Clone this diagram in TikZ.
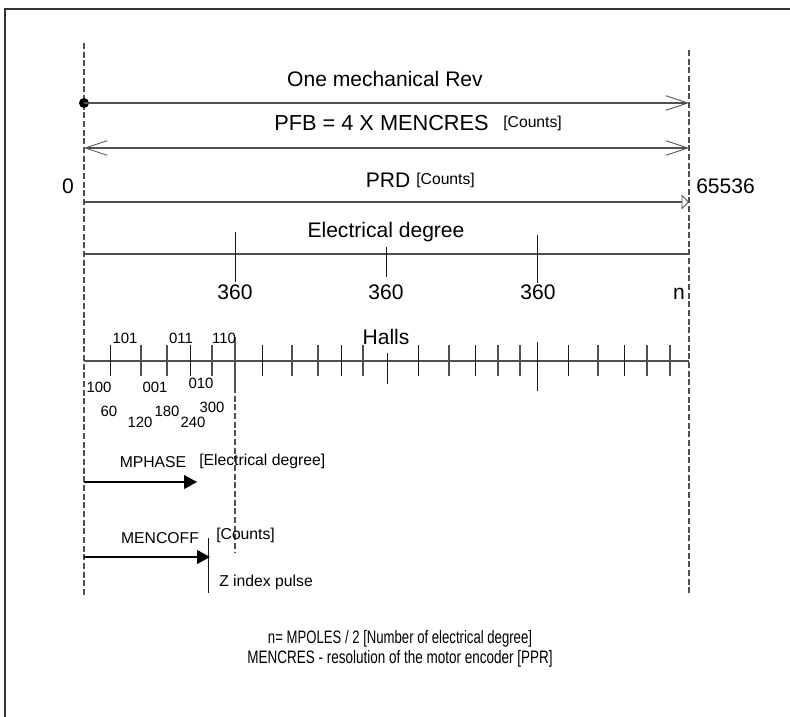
\documentclass[tikz,border=0pt]{standalone}
\usepackage{fontspec}
\setmainfont{Liberation Sans}
\usetikzlibrary{arrows.meta}
\definecolor{ln}{RGB}{80,80,80}
\definecolor{dk}{RGB}{25,25,25}
\begin{document}
\begin{tikzpicture}[x=0.75pt,y=-0.75pt,
  big/.style={font=\fontsize{15.8}{18}\selectfont, inner sep=0pt},
  mid/.style={font=\fontsize{11.8}{14}\selectfont, inner sep=0pt},
  sml/.style={font=\fontsize{11.2}{12}\selectfont, inner sep=0pt},
  note/.style={font=\fontsize{13.5}{16}\selectfont, inner sep=0pt},
  guide/.style={ln, dash pattern=on 4.5pt off 2pt, line width=0.9pt},
  hline/.style={ln, line width=0.8pt},
  tick/.style={dk, line width=0.75pt},
  gtick/.style={ln, line width=0.8pt},
  barb/.tip={Straight Barb[length=16.5pt,width=11pt,line width=0.6pt]},
  opentri/.tip={Triangle[open,length=5.5pt,width=11pt,line width=0.6pt]},
  fulltri/.tip={Triangle[length=9.75pt,width=10.5pt]},
]
\useasboundingbox (0,0) rectangle (790,717);
% frame
\coordinate (fb) at (5,717); \coordinate (fc) at (5,9); \coordinate (fr) at (790,9);
\draw[line width=0.8pt, black!80] (fb) -- (fc) -- (fr);

% guide lines
\coordinate (L0) at (84,43); \coordinate (L1) at (84,595);
\coordinate (R0) at (689,50); \coordinate (R1) at (689,595);
\draw[guide] (L0) -- (L1);
\draw[guide] (R0) -- (R1);

% One mechanical Rev
\node[big, anchor=base] (t1) at (385,87) {One mechanical Rev};
\node[circle, fill=black, inner sep=0pt, minimum size=7.5pt] (dot) at (84,103) {};
\coordinate (a1e) at (689,103);
\draw[hline, -barb] (dot.center) -- (a1e);

% PFB
\node[big, font=\fontsize{16.3}{18}\selectfont, anchor=base] (t2) at (381.5,131) {PFB = 4 X MENCRES};
\node[mid, anchor=base west] (t2c) at (503,127.5) {[Counts]};
\coordinate (a2s) at (84,148); \coordinate (a2e) at (689,148);
\draw[hline, barb-barb] (a2s) -- (a2e);

% PRD
\node[big, anchor=base] (t3) at (388,188) {PRD};
\node[mid, anchor=base west] (t3c) at (416,184.5) {[Counts]};
\node[big, anchor=base] (zero) at (68,193.5) {0};
\node[big, anchor=base west] (max) at (696,193.5) {65536};
\coordinate (a3s) at (84,202); \coordinate (a3e) at (689,202);
\draw[hline, -opentri] (a3s) -- (a3e);

% Electrical degree
\node[big, anchor=base] (t4) at (386,238) {Electrical degree};
\coordinate (e0) at (84,254); \coordinate (e1) at (689,254);
\draw[hline] (e0) -- (e1);
\draw[tick] (235,232) -- (235,282);
\draw[tick] (386,247) -- (386,277);
\draw[tick] (537,235) -- (537,283);
\node[big, anchor=base] (d1) at (235,299) {360};
\node[big, anchor=base] (d2) at (386,299) {360};
\node[big, anchor=base] (d3) at (538,299) {360};
\node[big, anchor=base east] (dn) at (685,299) {n};

% Halls
\node[big, anchor=base] (t5) at (386,344) {Halls};
\coordinate (h0) at (84,361); \coordinate (h1) at (689,361);
\draw[hline] (h0) -- (h1);
\foreach \x in {110,190,262,341,418,475,568,624}
  \draw[tick] (\x,345) -- (\x,376);
\foreach \x in {141,167,212,292,318,363,449,498,520,598,647,670}
  \draw[gtick] (\x,345) -- (\x,376);
\draw[gtick] (235,337) -- (235,387);
\draw[tick] (387,353) -- (387,384);
\draw[tick] (537,342) -- (537,391);
\coordinate (z0) at (235,387); \coordinate (z1) at (235,553);
\draw[guide] (z0) -- (z1);

\node[sml, anchor=base] (h101) at (125,343) {101};
\node[sml, anchor=base] (h011) at (181,343) {011};
\node[sml, anchor=base] (h110) at (224,343) {110};
\node[sml, anchor=base] (h100) at (99,392) {100};
\node[sml, anchor=base] (h001) at (155,392) {001};
\node[sml, anchor=base] (h010) at (201,388) {010};
\node[sml, anchor=base] (g60) at (109,416) {60};
\node[sml, anchor=base] (g120) at (140,427) {120};
\node[sml, anchor=base] (g180) at (167,416) {180};
\node[sml, anchor=base] (g240) at (193,427) {240};
\node[sml, anchor=base] (g300) at (212,412) {300};

% MPHASE
\node[mid, anchor=base] (mp) at (153,467) {MPHASE};
\node[mid, anchor=base west] (mpu) at (199,465) {[Electrical degree]};
\coordinate (m0) at (84,482); \coordinate (m1) at (197,482);
\draw[hline, black, -fulltri] (m0) -- (m1);

% MENCOFF
\node[mid, anchor=base] (mc) at (160,543) {MENCOFF};
\node[mid, anchor=base west] (mcu) at (216,539) {[Counts]};
\coordinate (c0) at (84,557); \coordinate (c1) at (210,557);
\draw[hline, black, -fulltri] (c0) -- (c1);
\coordinate (zi0) at (208,538); \coordinate (zi1) at (208,593);
\draw[tick] (zi0) -- (zi1);
\node[mid, anchor=base west] (zi) at (219,586) {Z index pulse};

% notes
\node[note, anchor=base] (n1) at (400,643) {\scalebox{0.73}[1]{n= MPOLES / 2 [Number of electrical degree]}};
\node[note, anchor=base] (n2) at (400,663) {\scalebox{0.75}[1]{MENCRES - resolution of the motor encoder [PPR]}};
\end{tikzpicture}
\end{document}
